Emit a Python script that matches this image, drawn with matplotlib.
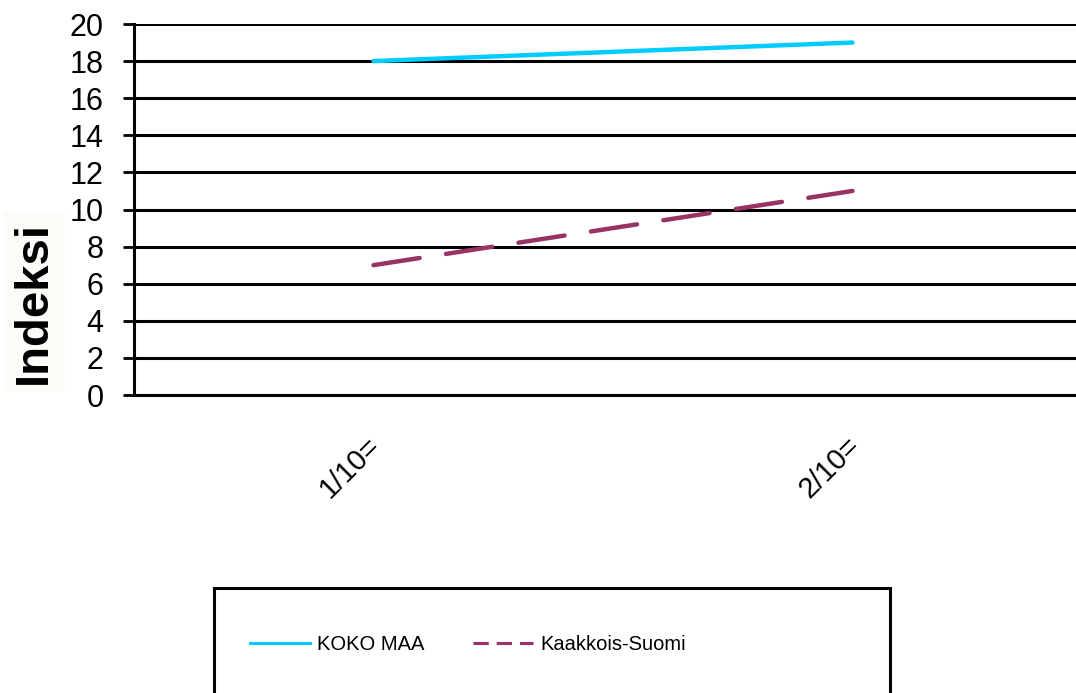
import matplotlib
matplotlib.use('Agg')
import matplotlib.pyplot as plt
from matplotlib.patches import Rectangle
from matplotlib.lines import Line2D
from matplotlib.transforms import ScaledTranslation

# Data
categories = ['1/10=', '2/10=']
koko_maa = [18, 19]
kaakkois_suomi = [7, 11]
y_ticks = list(range(0, 21, 2))

plt.rcParams['font.family'] = ['Liberation Sans', 'DejaVu Sans']

W, H = 1076, 693
fig = plt.figure(figsize=(W / 100, H / 100), dpi=100)

# axes: left edge at x=134, top y=24, bottom y=395; right side cut off by the image
left, right, top, bottom = 134, 1092, 24, 395
ax = fig.add_axes([left / W, 1 - bottom / H, (right - left) / W, (bottom - top) / H])

cyan = '#00CCFF'
plum = '#993366'
x = [0.5, 1.5]
ax.plot(x, koko_maa, color=cyan, linewidth=3.2, solid_capstyle='round')
ax.plot(x, kaakkois_suomi, color=plum, linewidth=3.2, dashes=(10.5, 6),
        dash_capstyle='round')

ax.set_xlim(0, 2)
ax.set_ylim(0, 20)
ax.set_yticks(y_ticks)
ax.set_yticklabels([str(v) for v in y_ticks], fontsize=22)
ax.set_xticks(x)
ax.set_xticklabels(categories, fontsize=21, rotation=45, ha='right', rotation_mode='anchor')
ax.tick_params(axis='x', length=0, pad=26)
ax.tick_params(axis='y', length=8, width=2, color='black', pad=14, direction='out')

# nudge rotated category labels a little to the left
shift = ScaledTranslation(-7 / 100, 0, fig.dpi_scale_trans)
for lab in ax.get_xticklabels():
    lab.set_transform(lab.get_transform() + shift)

ax.grid(True, axis='y', color='black', linewidth=2.2)
ax.set_axisbelow(True)
for side in ['top', 'right', 'bottom']:
    ax.spines[side].set_visible(False)
ax.spines['left'].set_linewidth(2.2)
ax.axhline(0, color='black', linewidth=2.2, clip_on=False)

fig.text(34 / W, 1 - 302 / H, 'Indeksi', rotation=90, fontsize=34, fontweight='bold',
         ha='center', va='center',
         bbox=dict(facecolor='#fbfbf8', edgecolor='none', pad=6))

# legend frame (bottom edge lies outside the image)
fig.patches.append(Rectangle((214 / W, -0.05), (890 - 214) / W, 0.05 + (H - 588) / H,
                             transform=fig.transFigure, fill=False,
                             edgecolor='black', linewidth=2.2))
handles = [Line2D([], [], color=cyan, linewidth=2.2),
           Line2D([], [], color=plum, linewidth=2.2, dashes=(5, 2.6))]
leg = fig.legend(handles, ['KOKO MAA', 'Kaakkois-Suomi'], loc='center',
                 bbox_to_anchor=(468 / W, 1 - 645 / H), ncol=2, frameon=False,
                 fontsize=14.5, handlelength=3.0, handletextpad=0.35,
                 columnspacing=2.4)

fig.savefig('out.png', dpi=100)
